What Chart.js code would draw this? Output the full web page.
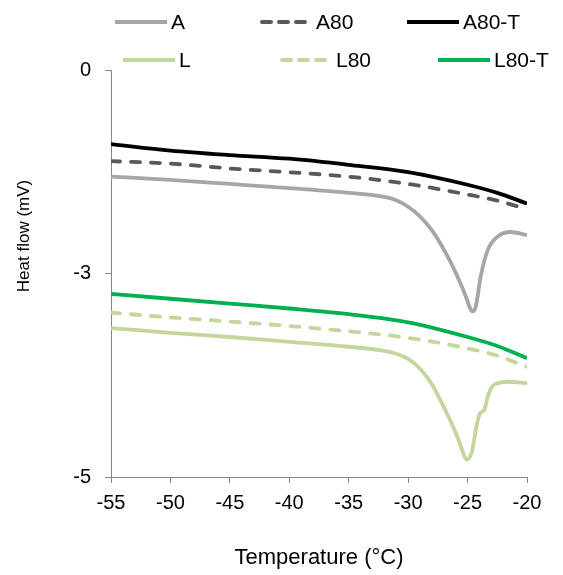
<!DOCTYPE html>
<html>
<head>
<meta charset="utf-8">
<script src="https://cdn.jsdelivr.net/npm/chart.js@4/dist/chart.umd.min.js"></script>
<style>
  html, body { margin: 0; padding: 0; background: #fff; }
  #wrap { width: 563px; height: 575px; }
</style>
</head>
<body>
<div id="wrap"><canvas id="myChart" width="563" height="575"></canvas></div>
<script>
// series names
var seriesNames = ["A", "A80", "A80-T", "L", "L80", "L80-T"];

// temperature (°C) and heat flow (mV)
var tempA   = [-55, -50, -45, -40, -35, -32, -31, -30, -29, -28, -27.25, -26.5, -25.6, -25.1, -24.75, -24.55, -24.3, -23.9, -23.3, -22.5, -21.4, -20];
var flowA   = [-1.31, -1.35, -1.40, -1.45, -1.51, -1.56, -1.60, -1.68, -1.80, -1.97, -2.14, -2.34, -2.62, -2.80, -2.94, -2.965, -2.90, -2.54, -2.21, -2.05, -1.99, -2.03];

var tempA80 = [-55, -50, -45, -40, -35, -30, -25, -22.5, -20];
var flowA80 = [-1.12, -1.15, -1.21, -1.256, -1.31, -1.40, -1.53, -1.605, -1.71];

var tempA80T = [-55, -50, -45, -40, -35, -30, -25, -22.5, -20];
var flowA80T = [-0.91, -0.99, -1.045, -1.09, -1.165, -1.255, -1.41, -1.51, -1.64];

var tempL   = [-55, -50, -45, -40, -35, -32, -31, -30, -29, -28, -27, -26.1, -25.6, -25.25, -25.05, -24.8, -24.6, -24.2, -23.9, -23.6, -23.3, -22.8, -21.6, -20];
var flowL   = [-3.17, -3.23, -3.28, -3.34, -3.40, -3.45, -3.485, -3.55, -3.67, -3.86, -4.14, -4.42, -4.61, -4.75, -4.785, -4.75, -4.67, -4.34, -4.21, -4.18, -4.01, -3.87, -3.83, -3.85];

var tempL80 = [-55, -50, -45, -40, -35, -30, -25, -22.5, -20];
var flowL80 = [-2.98, -3.04, -3.09, -3.145, -3.21, -3.29, -3.42, -3.51, -3.645];

var tempL80T = [-55, -50, -45, -40, -35, -30, -25, -22.5, -20];
var flowL80T = [-2.75, -2.81, -2.87, -2.93, -3.00, -3.10, -3.28, -3.39, -3.54];

// axis ticks
var xTicks = [-55, -50, -45, -40, -35, -30, -25, -20];
var yTicks = [-5, -2.5, 0];
var yTickLabels = ["-5", "-3", "0"];
var yTitle = "Heat flow (mV)";

var fontFamily = "'Liberation Sans', Arial, sans-serif";

function toPoints(xs, ys) {
    return xs.map(function (x, i) { return { x: x, y: ys[i] }; });
}

function makeSet(name, xs, ys, color, dashed) {
    return {
        label: name,
        data: toPoints(xs, ys),
        borderColor: color,
        backgroundColor: color,
        borderWidth: 3.8,
        borderDash: dashed ? [9, 11] : [],
        borderCapStyle: dashed ? 'round' : 'butt',
        pointRadius: 0,
        fill: false,
        cubicInterpolationMode: 'monotone'
    };
}

var datasets = [
    makeSet(seriesNames[3], tempL, flowL, '#C3D69B', false),
    makeSet(seriesNames[4], tempL80, flowL80, '#C3D69B', true),
    makeSet(seriesNames[5], tempL80T, flowL80T, '#00B050', false),
    makeSet(seriesNames[0], tempA, flowA, '#A6A6A6', false),
    makeSet(seriesNames[1], tempA80, flowA80, '#595959', true),
    makeSet(seriesNames[2], tempA80T, flowA80T, '#000000', false)
];

// legend laid out in two rows of three like the original
var legendSlots = {
    "A": [115, 22], "A80": [260, 22], "A80-T": [407, 22],
    "L": [123, 60], "L80": [280, 60], "L80-T": [438, 60]
};

var gridLegend = {
    id: 'gridLegend',
    afterDraw: function (chart) {
        var ctx = chart.ctx;
        ctx.save();
        chart.data.datasets.forEach(function (ds) {
            var slot = legendSlots[ds.label];
            ctx.beginPath();
            ctx.strokeStyle = ds.borderColor;
            ctx.lineWidth = 4;
            ctx.lineCap = ds.borderCapStyle;
            ctx.setLineDash(ds.borderDash.length ? [9, 8] : []);
            var x0 = ds.borderDash.length ? slot[0] + 2 : slot[0];
            var x1 = ds.borderDash.length ? slot[0] + 50 : slot[0] + 52;
            ctx.moveTo(x0, slot[1]);
            ctx.lineTo(x1, slot[1]);
            ctx.stroke();
            ctx.setLineDash([]);
            ctx.fillStyle = '#000';
            ctx.font = '21px ' + fontFamily;
            ctx.textBaseline = 'middle';
            ctx.textAlign = 'left';
            ctx.fillText(ds.label, slot[0] + 56, slot[1] + 1);
        });

        // y title sits a bit above the middle of the axis in the original
        ctx.translate(24, 236);
        ctx.rotate(-Math.PI / 2);
        ctx.font = '17px ' + fontFamily;
        ctx.textAlign = 'center';
        ctx.textBaseline = 'middle';
        ctx.fillText(yTitle, 0, 0);
        ctx.restore();
    }
};

new Chart("myChart", {
    type: "line",
    data: { datasets: datasets },
    options: {
        responsive: false,
        animation: false,
        layout: { padding: { top: 70, right: 36, left: 0, bottom: 0 } },
        plugins: {
            legend: { display: false },
            tooltip: { enabled: false }
        },
        scales: {
            x: {
                type: 'linear',
                min: -55,
                max: -20,
                afterBuildTicks: function (scale) {
                    scale.ticks = xTicks.map(function (v) { return { value: v }; });
                },
                afterFit: function (scale) { scale.height = 98; },
                grid: { drawOnChartArea: false, drawTicks: true, tickLength: 6, color: '#868686' },
                border: { display: true, color: '#868686', width: 1 },
                ticks: {
                    color: '#000',
                    padding: 8,
                    maxRotation: 0,
                    font: { family: fontFamily, size: 20 }
                },
                title: {
                    display: true,
                    text: 'Temperature (°C)',
                    color: '#000',
                    font: { family: fontFamily, size: 22 },
                    padding: { top: 0, bottom: 4 }
                }
            },
            y: {
                type: 'linear',
                min: -5,
                max: 0,
                afterBuildTicks: function (scale) {
                    scale.ticks = yTicks.map(function (v) { return { value: v }; });
                },
                afterFit: function (scale) { scale.width = 111; },
                grid: { drawOnChartArea: false, drawTicks: true, tickLength: 6, color: '#868686' },
                border: { display: true, color: '#868686', width: 1 },
                ticks: {
                    color: '#000',
                    padding: 14,
                    font: { family: fontFamily, size: 20 },
                    callback: function (value) {
                        var i = yTicks.indexOf(value);
                        return i >= 0 ? yTickLabels[i] : '';
                    }
                },
                title: { display: false }
            }
        }
    },
    plugins: [gridLegend]
});
</script>
</body>
</html>
